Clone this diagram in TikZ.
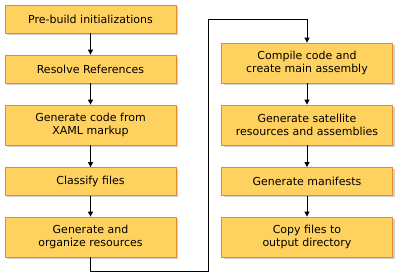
\documentclass[tikz,border=0pt]{standalone}
\usepackage{fontspec}
\setmainfont{DejaVu Sans}
\usetikzlibrary{arrows.meta,shadows}
\definecolor{bsfill}{RGB}{255,210,96}
\definecolor{bsedge}{RGB}{233,138,42}
\definecolor{bsshade}{RGB}{190,190,190}

\begin{document}
\begin{tikzpicture}[
  x=1pt, y=-1pt,
  font=\fontsize{11}{13.5}\selectfont,
  box/.style={draw=bsedge, fill=bsfill, line width=0.8pt, align=center,
    minimum width=171pt, minimum height=28pt, inner sep=2pt,
    drop shadow={shadow xshift=2pt, shadow yshift=-2pt, fill=bsshade, opacity=0.7}},
  tall/.style={box, minimum height=40pt},
  arr/.style={-{Triangle[length=5pt,width=5pt]}, black, line width=1pt}
]
\useasboundingbox (0,0) rectangle (402,275);

% left column
\node[box] (pre) at (90.5,19) {Pre-build initializations};
\node[box] (res) at (90.5,69) {Resolve References};
\node[tall] (gen) at (90.5,125) {Generate code from\\XAML markup};
\node[box] (cls) at (90.5,181.5) {Classify files};
\node[tall] (org) at (90.5,237) {Generate and\\organize resources};
\draw[arr] (pre) -- (res);
\draw[arr] (res) -- (gen);
\draw[arr] (gen) -- (cls);
\draw[arr] (cls) -- (org);

% right column
\node[tall] (cmp) at (307,63) {Compile code and\\create main assembly};
\node[tall] (sat) at (307,125) {Generate satellite\\resources and assemblies};
\node[box] (man) at (307,181.5) {Generate manifests};
\node[tall] (cpy) at (307,237) {Copy files to\\output directory};
\draw[arr] (cmp) -- (sat);
\draw[arr] (sat) -- (man);
\draw[arr] (man) -- (cpy);

% jump between columns
\draw[arr] (org.south) |- (208,272) |- (307,20) -- (cmp.north);
\end{tikzpicture}
\end{document}
